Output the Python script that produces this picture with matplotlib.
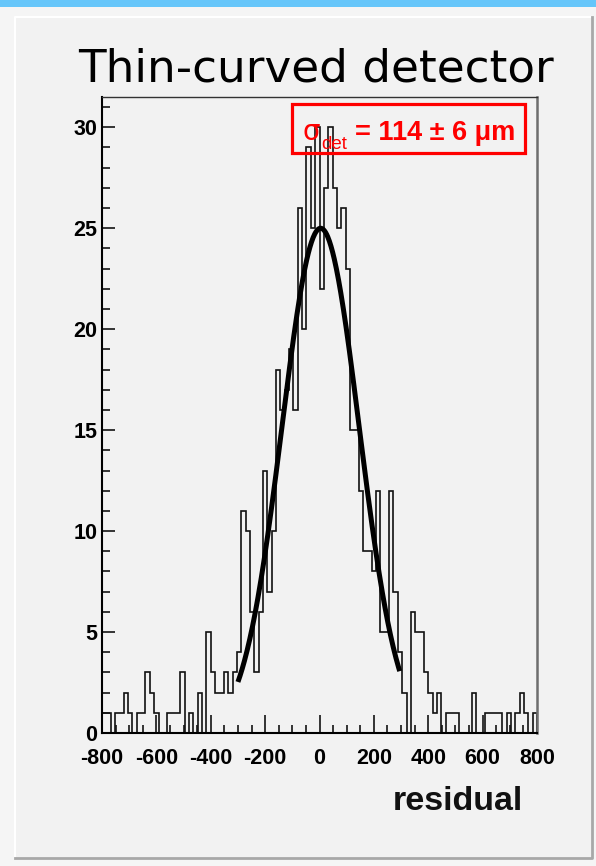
import numpy as np
import matplotlib
matplotlib.use("Agg")
import matplotlib.pyplot as plt
from matplotlib.patches import Rectangle
from matplotlib.ticker import MultipleLocator

plt.rcParams["axes.unicode_minus"] = False

# ---- data -------------------------------------------------------------
x_min, x_max, n_bins = -800, 800, 100
counts = [1, 1, 0, 1, 1, 2, 1, 0, 1, 1,
          3, 2, 1, 0, 0, 1, 1, 1, 3, 0,
          1, 0, 2, 0, 5, 3, 2, 2, 3, 2,
          3, 4, 11, 10, 6, 3, 6, 13, 7, 10,
          18, 16, 17, 19, 16, 26, 20, 29, 25, 30,
          22, 27, 30, 27, 25, 26, 23, 15, 15, 12,
          9, 9, 8, 12, 5, 5, 12, 7, 4, 2,
          0, 6, 5, 5, 3, 2, 1, 2, 0, 1,
          1, 1, 0, 0, 0, 2, 0, 0, 1, 1,
          1, 1, 0, 1, 0, 1, 2, 1, 0, 1]
# gaussian fit parameters
fit_amp, fit_mean, fit_sigma = 25.0, 4.0, 142.0
fit_lo, fit_hi = -300.0, 295.0
x_ticks = [-800, -600, -400, -200, 0, 200, 400, 600, 800]
y_ticks = [0, 5, 10, 15, 20, 25, 30]
title = "Thin-curved detector"
xlabel = "residual"
result_text = "= 114 \u00b1 6 \u03bcm"

# ---- figure -----------------------------------------------------------
W, H = 596, 866
bg = "#F2F2F2"
fig = plt.figure(figsize=(W / 100, H / 100), dpi=100, facecolor="#F5F5F5")

def fx(px):
    return px / W

def fy(py):
    return 1 - py / H

# top blue band
fig.add_artist(Rectangle((0, fy(7)), 1, 7 / H, transform=fig.transFigure,
                         facecolor="#66C6FA", edgecolor="none", zorder=0))
# panel with bevel
fig.add_artist(Rectangle((fx(15), fy(858)), (592 - 15) / W, (858 - 17) / H,
                         transform=fig.transFigure, facecolor=bg,
                         edgecolor="none", zorder=0))
fig.add_artist(plt.Line2D([fx(15), fx(15), fx(592)], [fy(858), fy(17), fy(17)],
                          transform=fig.transFigure, color="white", lw=1.5, zorder=0))
fig.add_artist(plt.Line2D([fx(15), fx(592), fx(592)], [fy(858), fy(858), fy(17)],
                          transform=fig.transFigure, color="#A8A8A8", lw=2.0, zorder=0))

ax = fig.add_axes([fx(102), fy(733), fx(537) - fx(102), fy(97) - fy(733)])
ax.set_facecolor("none")

edges = np.linspace(x_min, x_max, n_bins + 1)
ax.stairs(counts, edges, baseline=0, color="#111111", lw=1.2, zorder=2)

xf = np.linspace(fit_lo, fit_hi, 300)
yf = fit_amp * np.exp(-0.5 * ((xf - fit_mean) / fit_sigma) ** 2)
ax.plot(xf, yf, color="black", lw=3.6, zorder=3, solid_capstyle="butt")

ax.set_xlim(x_min, x_max)
ax.set_ylim(0, 31.5)
ax.set_xticks(x_ticks)
ax.set_yticks(y_ticks)
ax.xaxis.set_minor_locator(MultipleLocator(50))
ax.yaxis.set_minor_locator(MultipleLocator(1))
ax.tick_params(axis="x", which="major", direction="in", length=13, width=1.1,
               pad=11, top=False)
ax.tick_params(axis="x", which="minor", direction="in", length=5.8, width=1.1,
               top=False)
ax.tick_params(axis="y", which="major", direction="in", length=9.4, width=1.1,
               pad=3.5, right=False)
ax.tick_params(axis="y", which="minor", direction="in", length=5.8, width=1.1,
               right=False)
for lab in ax.get_xticklabels() + ax.get_yticklabels():
    lab.set_fontfamily("Liberation Sans")
    lab.set_fontweight("bold")
    lab.set_fontsize(15.5)
ax.spines["left"].set_linewidth(1.5)
ax.spines["bottom"].set_linewidth(1.5)
ax.spines["top"].set_linewidth(1.0)
ax.spines["top"].set_color("#333333")
ax.spines["right"].set_linewidth(1.8)
ax.spines["right"].set_color("#6E6E6E")

# title
fig.text(fx(315.5), fy(81), title, fontsize=32.6, family="DejaVu Sans",
         ha="center", va="baseline", color="black")
# axis label
fig.text(fx(523), fy(810), xlabel, fontsize=24.5, family="Liberation Sans",
         fontweight="bold", ha="right", va="baseline", color="#111111")

# result box
red = "#FF0000"
fig.add_artist(Rectangle((fx(292), fy(153)), (525 - 292) / W, (153 - 104) / H,
                         transform=fig.transFigure, facecolor="none",
                         edgecolor=red, lw=2.3, zorder=5))
fig.text(fx(302), fy(140), "\u03c3", fontsize=20, family="DejaVu Sans",
         ha="left", va="baseline", color=red, zorder=6)
fig.text(fx(321), fy(149), "det", fontsize=13.5, family="Liberation Sans",
         ha="left", va="baseline", color=red, zorder=6)
fig.text(fx(515), fy(140), result_text, fontsize=19.5, family="Liberation Sans",
         fontweight="bold", ha="right", va="baseline", color=red, zorder=6)

fig.savefig("out.png", dpi=100, facecolor=fig.get_facecolor())
